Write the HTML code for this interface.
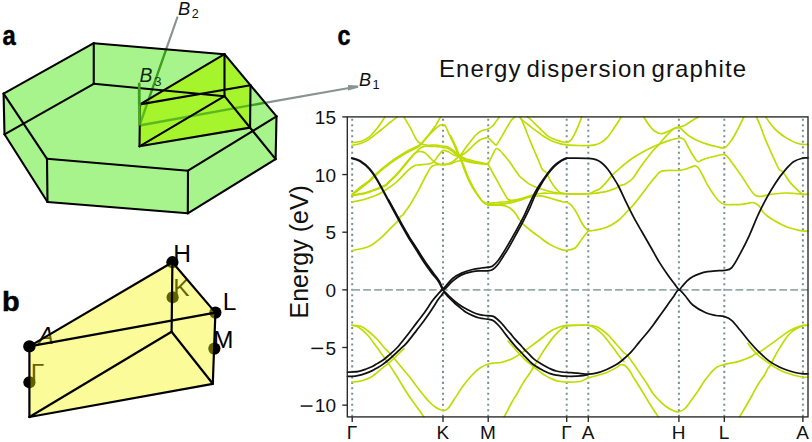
<!DOCTYPE html>
<html><head><meta charset="utf-8"><style>html,body{margin:0;padding:0;background:#fff;overflow:hidden}svg{display:block}</style></head>
<body><svg width="812" height="442" viewBox="0 0 812 442">
<polygon points="3.60,93.60 93.75,43.20 224.50,54.20 276.50,116.40 275.60,159.10 187.80,213.30 47.50,202.00 4.50,134.30" fill="#a8f48c"/>
<polygon points="140.00,104.40 224.50,54.20 250.50,85.30 250.05,127.65 139.50,146.30" fill="#a6f42c"/>
<line x1="139.50" y1="125.50" x2="250.20" y2="105.44" stroke="#5cb81e" stroke-width="2.4" />
<line x1="250.20" y1="105.44" x2="264.80" y2="102.80" stroke="#3c9e1e" stroke-width="2.4" />
<line x1="139.50" y1="125.50" x2="148.84" y2="98.80" stroke="#5cb81e" stroke-width="2.4" />
<line x1="148.84" y1="98.80" x2="166.42" y2="48.60" stroke="#3c9e1e" stroke-width="2.4" />
<line x1="264.80" y1="102.80" x2="349.00" y2="88.00" stroke="#88948f" stroke-width="2.2" />
<polygon points="348,85.0 358.2,85.5 358.2,87.7 348,90.6" fill="#88948f"/>
<line x1="166.42" y1="48.60" x2="177.30" y2="17.50" stroke="#88948f" stroke-width="2.2" stroke-linecap="round"/>
<line x1="93.75" y1="43.20" x2="224.50" y2="54.20" stroke="#000" stroke-width="2.1" stroke-linecap="round"/>
<line x1="93.75" y1="83.80" x2="224.50" y2="96.20" stroke="#000" stroke-width="2.1" stroke-linecap="round"/>
<line x1="224.50" y1="54.20" x2="276.50" y2="116.40" stroke="#000" stroke-width="2.1" stroke-linecap="round"/>
<line x1="224.50" y1="96.20" x2="275.60" y2="159.10" stroke="#000" stroke-width="2.1" stroke-linecap="round"/>
<line x1="276.50" y1="116.40" x2="188.00" y2="170.70" stroke="#000" stroke-width="2.1" stroke-linecap="round"/>
<line x1="275.60" y1="159.10" x2="187.80" y2="213.30" stroke="#000" stroke-width="2.1" stroke-linecap="round"/>
<line x1="188.00" y1="170.70" x2="47.00" y2="158.80" stroke="#000" stroke-width="2.1" stroke-linecap="round"/>
<line x1="187.80" y1="213.30" x2="47.50" y2="202.00" stroke="#000" stroke-width="2.1" stroke-linecap="round"/>
<line x1="47.00" y1="158.80" x2="3.60" y2="93.60" stroke="#000" stroke-width="2.1" stroke-linecap="round"/>
<line x1="47.50" y1="202.00" x2="4.50" y2="134.30" stroke="#000" stroke-width="2.1" stroke-linecap="round"/>
<line x1="3.60" y1="93.60" x2="93.75" y2="43.20" stroke="#000" stroke-width="2.1" stroke-linecap="round"/>
<line x1="4.50" y1="134.30" x2="93.75" y2="83.80" stroke="#000" stroke-width="2.1" stroke-linecap="round"/>
<line x1="93.75" y1="43.20" x2="93.75" y2="83.80" stroke="#000" stroke-width="2.1" stroke-linecap="round"/>
<line x1="224.50" y1="54.20" x2="224.50" y2="96.20" stroke="#000" stroke-width="2.1" stroke-linecap="round"/>
<line x1="276.50" y1="116.40" x2="275.60" y2="159.10" stroke="#000" stroke-width="2.1" stroke-linecap="round"/>
<line x1="188.00" y1="170.70" x2="187.80" y2="213.30" stroke="#000" stroke-width="2.1" stroke-linecap="round"/>
<line x1="47.00" y1="158.80" x2="47.50" y2="202.00" stroke="#000" stroke-width="2.1" stroke-linecap="round"/>
<line x1="3.60" y1="93.60" x2="4.50" y2="134.30" stroke="#000" stroke-width="2.1" stroke-linecap="round"/>
<line x1="140.00" y1="104.40" x2="224.50" y2="54.20" stroke="#000" stroke-width="2.1" stroke-linecap="round"/>
<line x1="140.00" y1="104.40" x2="250.50" y2="85.30" stroke="#000" stroke-width="2.1" stroke-linecap="round"/>
<line x1="140.00" y1="104.40" x2="139.50" y2="146.30" stroke="#000" stroke-width="2.1" stroke-linecap="round"/>
<line x1="250.50" y1="85.30" x2="250.05" y2="127.65" stroke="#000" stroke-width="2.1" stroke-linecap="round"/>
<line x1="139.50" y1="146.30" x2="224.50" y2="96.20" stroke="#000" stroke-width="2.1" stroke-linecap="round"/>
<line x1="139.50" y1="146.30" x2="250.05" y2="127.65" stroke="#000" stroke-width="2.1" stroke-linecap="round"/>
<line x1="139.50" y1="125.50" x2="139.30" y2="103.80" stroke="#4caa22" stroke-width="2.8" />
<line x1="139.30" y1="103.80" x2="139.20" y2="84.00" stroke="#3c9e1e" stroke-width="2.8" stroke-linecap="round"/>
<text transform="translate(2.4,45.3) scale(0.85,1)" font-family="Liberation Sans" font-weight="bold" font-size="28" stroke="#000" stroke-width="0.5">a</text>
<text x="178" y="14.6" font-family="Liberation Sans" font-style="italic" font-size="18.3" fill="#111">B</text><text x="191.8" y="18.2" font-family="Liberation Sans" font-size="12.5" fill="#111">2</text>
<text x="359" y="85.5" font-family="Liberation Sans" font-style="italic" font-size="18" fill="#111">B</text><text x="372.6" y="88.9" font-family="Liberation Sans" font-size="12.8" fill="#111">1</text>
<text x="139.6" y="82.3" font-family="Liberation Sans" font-style="italic" font-size="19.3" fill="#122612">B</text><text x="154" y="85.5" font-family="Liberation Sans" font-size="13.6" fill="#1f3f1c">3</text>
<text transform="translate(1.9,311) scale(1.07,1)" font-family="Liberation Sans" font-weight="bold" font-size="27" stroke="#000" stroke-width="0.5">b</text>
<text x="173.2" y="262.4" font-family="Liberation Sans" font-size="24.5">H</text>
<text x="173.2" y="296.3" font-family="Liberation Sans" font-size="24.5">K</text>
<text x="222.8" y="310.1" font-family="Liberation Sans" font-size="24.5">L</text>
<text x="213" y="348.3" font-family="Liberation Sans" font-size="24.5">M</text>
<text x="38.4" y="343.8" font-family="Liberation Sans" font-style="italic" font-size="23">A</text>
<text x="30.8" y="381.2" font-family="Liberation Sans" font-size="24.5">Γ</text>
<circle cx="29.4" cy="382.3" r="6.1" fill="#000"/>
<circle cx="172.6" cy="297.3" r="6.1" fill="#000"/>
<circle cx="214.4" cy="348.6" r="6.1" fill="#000"/>
<circle cx="215.4" cy="312.6" r="6.1" fill="#000"/>
<circle cx="172.4" cy="262.2" r="6.1" fill="#000"/>
<polygon points="29.40,346.40 172.40,262.20 215.40,312.60 212.80,383.80 29.40,417.00" fill="#f5f500" fill-opacity="0.4"/>
<line x1="29.40" y1="346.40" x2="172.40" y2="262.20" stroke="#000" stroke-width="2.2" stroke-linecap="round"/>
<line x1="172.40" y1="262.20" x2="215.40" y2="312.60" stroke="#000" stroke-width="2.2" stroke-linecap="round"/>
<line x1="29.40" y1="346.40" x2="215.40" y2="312.60" stroke="#000" stroke-width="2.2" stroke-linecap="round"/>
<line x1="29.40" y1="346.40" x2="29.40" y2="417.00" stroke="#000" stroke-width="2.2" stroke-linecap="round"/>
<line x1="172.40" y1="262.20" x2="171.60" y2="331.70" stroke="#000" stroke-width="2.2" stroke-linecap="round"/>
<line x1="215.40" y1="312.60" x2="212.80" y2="383.80" stroke="#000" stroke-width="2.2" stroke-linecap="round"/>
<line x1="29.40" y1="417.00" x2="171.60" y2="331.70" stroke="#000" stroke-width="2.2" stroke-linecap="round"/>
<line x1="171.60" y1="331.70" x2="212.80" y2="383.80" stroke="#000" stroke-width="2.2" stroke-linecap="round"/>
<line x1="29.40" y1="417.00" x2="212.80" y2="383.80" stroke="#000" stroke-width="2.2" stroke-linecap="round"/>
<circle cx="29.4" cy="346.4" r="6.2" fill="#000"/>
<text transform="translate(337.4,45.3) scale(0.83,1)" font-family="Liberation Sans" font-weight="bold" font-size="28" stroke="#000" stroke-width="0.5">c</text>
<text x="439" y="77" font-family="Liberation Sans" font-size="24" letter-spacing="1.1" word-spacing="-3" fill="#111">Energy dispersion graphite</text>
<line x1="352.2" y1="116.9" x2="352.2" y2="416.9" stroke="#7b9294" stroke-width="2" stroke-dasharray="2.07,3.41" stroke-dashoffset="3.61"/>
<line x1="443.0" y1="116.9" x2="443.0" y2="416.9" stroke="#7b9294" stroke-width="2" stroke-dasharray="2.07,3.41" stroke-dashoffset="3.61"/>
<line x1="488.2" y1="116.9" x2="488.2" y2="416.9" stroke="#7b9294" stroke-width="2" stroke-dasharray="2.07,3.41" stroke-dashoffset="3.61"/>
<line x1="566.7" y1="116.9" x2="566.7" y2="416.9" stroke="#7b9294" stroke-width="2" stroke-dasharray="2.07,3.41" stroke-dashoffset="3.61"/>
<line x1="588.3" y1="116.9" x2="588.3" y2="416.9" stroke="#7b9294" stroke-width="2" stroke-dasharray="2.07,3.41" stroke-dashoffset="3.61"/>
<line x1="678.9" y1="116.9" x2="678.9" y2="416.9" stroke="#7b9294" stroke-width="2" stroke-dasharray="2.07,3.41" stroke-dashoffset="3.61"/>
<line x1="724.3" y1="116.9" x2="724.3" y2="416.9" stroke="#7b9294" stroke-width="2" stroke-dasharray="2.07,3.41" stroke-dashoffset="3.61"/>
<line x1="802.9" y1="116.9" x2="802.9" y2="416.9" stroke="#7b9294" stroke-width="2" stroke-dasharray="2.07,3.41" stroke-dashoffset="3.61"/>
<line x1="352.2" y1="289.85" x2="808.0" y2="289.85" stroke="#98aaa6" stroke-width="1.7" stroke-dasharray="7.8,3.15"/>
<g fill="none" stroke-linecap="round" stroke-linejoin="round">
<path d="M352.00,142.60 C353.43,142.42 357.82,142.37 360.60,141.50 C363.38,140.63 365.98,139.55 368.70,137.40 C371.42,135.25 374.18,132.02 376.90,128.60 C379.62,125.18 383.65,118.85 385.00,116.90" stroke="#bedc00" stroke-width="1.65"/>
<path d="M352.00,145.30 C353.43,145.00 357.82,144.45 360.60,143.50 C363.38,142.55 365.32,141.85 368.70,139.60 C372.08,137.35 377.35,132.85 380.90,130.00 C384.45,127.15 387.28,124.68 390.00,122.50 C392.72,120.32 396.00,117.83 397.20,116.90" stroke="#bedc00" stroke-width="1.65"/>
<path d="M404.00,116.90 C405.13,118.85 408.77,124.87 410.80,128.60 C412.83,132.33 414.58,136.80 416.20,139.30 C417.82,141.80 418.53,142.62 420.50,143.60 C422.47,144.58 425.53,144.97 428.00,145.20 C430.47,145.43 432.80,144.83 435.30,145.00 C437.80,145.17 440.90,145.88 443.00,146.20 C445.10,146.52 446.28,146.27 447.90,146.90 C449.52,147.53 451.12,148.82 452.70,150.00 C454.28,151.18 455.55,152.67 457.40,154.00 C459.25,155.33 461.63,157.00 463.80,158.00 C465.97,159.00 467.85,159.28 470.40,160.00 C472.95,160.72 476.17,161.63 479.10,162.30 C482.03,162.97 486.52,163.72 488.00,164.00" stroke="#bedc00" stroke-width="1.65"/>
<path d="M352.00,195.70 C354.17,195.33 361.17,194.45 365.00,193.50 C368.83,192.55 371.60,191.30 375.00,190.00 C378.40,188.70 383.07,186.95 385.40,185.70 C387.73,184.45 386.88,184.53 389.00,182.50 C391.12,180.47 395.08,176.82 398.10,173.50 C401.12,170.18 404.08,166.18 407.10,162.60 C410.12,159.02 414.05,154.37 416.20,152.00 C418.35,149.63 418.70,149.33 420.00,148.40 C421.30,147.47 422.67,146.75 424.00,146.40 C425.33,146.05 426.17,146.28 428.00,146.30 C429.83,146.32 432.50,146.30 435.00,146.50 C437.50,146.70 440.85,147.18 443.00,147.50 C445.15,147.82 446.28,147.72 447.90,148.40 C449.52,149.08 451.12,150.43 452.70,151.60 C454.28,152.77 455.55,154.12 457.40,155.40 C459.25,156.68 461.63,158.32 463.80,159.30 C465.97,160.28 467.85,160.63 470.40,161.30 C472.95,161.97 476.17,162.78 479.10,163.30 C482.03,163.82 486.52,164.22 488.00,164.40" stroke="#bedc00" stroke-width="1.65"/>
<path d="M352.00,194.40 C353.33,193.25 357.07,189.90 360.00,187.50 C362.93,185.10 366.27,182.87 369.60,180.00 C372.93,177.13 376.77,173.12 380.00,170.30 C383.23,167.48 385.98,165.35 389.00,163.10 C392.02,160.85 395.08,158.77 398.10,156.80 C401.12,154.83 404.08,152.97 407.10,151.30 C410.12,149.63 414.00,147.97 416.20,146.80 C418.40,145.63 418.33,146.18 420.30,144.30 C422.27,142.42 425.55,138.47 428.00,135.50 C430.45,132.53 432.90,129.60 435.00,126.50 C437.10,123.40 439.67,118.50 440.60,116.90" stroke="#bedc00" stroke-width="1.65"/>
<path d="M352.00,194.90 C353.33,193.88 357.07,191.07 360.00,188.80 C362.93,186.53 366.27,184.17 369.60,181.30 C372.93,178.43 376.77,174.42 380.00,171.60 C383.23,168.78 385.98,166.65 389.00,164.40 C392.02,162.15 395.08,160.07 398.10,158.10 C401.12,156.13 404.08,154.27 407.10,152.60 C410.12,150.93 414.00,149.33 416.20,148.10 C418.40,146.87 418.27,147.25 420.30,145.20 C422.33,143.15 425.92,138.53 428.40,135.80 C430.88,133.07 433.27,130.57 435.20,128.80 C437.13,127.03 438.75,125.92 440.00,125.20 C441.25,124.48 441.78,124.33 442.70,124.50 C443.62,124.67 444.37,124.45 445.50,126.20 C446.63,127.95 448.05,131.88 449.50,135.00 C450.95,138.12 452.75,141.60 454.20,144.90 C455.65,148.20 456.97,151.90 458.20,154.80 C459.43,157.70 460.62,159.93 461.60,162.30 C462.58,164.67 463.13,166.48 464.10,169.00 C465.07,171.52 466.02,174.33 467.40,177.40 C468.78,180.47 470.75,184.50 472.40,187.40 C474.05,190.30 475.65,192.52 477.30,194.80 C478.95,197.08 480.52,199.68 482.30,201.10 C484.08,202.52 485.48,203.07 488.00,203.30 C490.52,203.53 493.75,202.85 497.40,202.50 C501.05,202.15 506.80,201.62 509.90,201.20 C513.00,200.78 513.93,200.50 516.00,200.00 C518.07,199.50 520.20,198.82 522.30,198.20 C524.40,197.58 526.48,196.95 528.60,196.30 C530.72,195.65 532.68,194.82 535.00,194.30 C537.32,193.78 540.00,193.37 542.50,193.20 C545.00,193.03 547.08,193.23 550.00,193.30 C552.92,193.37 557.17,193.52 560.00,193.60 C562.83,193.68 565.83,193.77 567.00,193.80" stroke="#bedc00" stroke-width="1.65"/>
<path d="M450.50,135.50 C451.28,137.12 453.75,141.95 455.20,145.20 C456.65,148.45 457.97,152.12 459.20,155.00 C460.43,157.88 461.62,160.13 462.60,162.50 C463.58,164.87 464.13,166.68 465.10,169.20 C466.07,171.72 467.02,174.53 468.40,177.60 C469.78,180.67 471.75,184.62 473.40,187.60 C475.05,190.58 476.65,193.05 478.30,195.50 C479.95,197.95 481.68,200.75 483.30,202.30 C484.92,203.85 485.65,204.47 488.00,204.80 C490.35,205.13 493.75,204.60 497.40,204.30 C501.05,204.00 507.82,203.22 509.90,203.00" stroke="#bedc00" stroke-width="1.65"/>
<path d="M488.00,205.00 C490.00,204.87 496.33,204.53 500.00,204.20 C503.67,203.87 506.67,203.67 510.00,203.00 C513.33,202.33 517.00,201.12 520.00,200.20 C523.00,199.28 525.50,198.18 528.00,197.50 C530.50,196.82 532.58,196.33 535.00,196.10 C537.42,195.87 539.38,195.58 542.50,196.10 C545.62,196.62 550.38,198.27 553.70,199.20 C557.02,200.13 560.23,201.18 562.40,201.70 C564.57,202.22 565.27,201.78 566.70,202.30 C568.13,202.82 569.65,203.55 571.00,204.80 C572.35,206.05 573.63,208.02 574.80,209.80 C575.97,211.58 576.97,213.55 578.00,215.50 C579.03,217.45 579.92,219.58 581.00,221.50 C582.08,223.42 583.28,225.42 584.50,227.00 C585.72,228.58 587.67,230.33 588.30,231.00" stroke="#bedc00" stroke-width="1.65"/>
<path d="M488.00,205.20 C489.50,205.20 494.30,205.13 497.00,205.20 C499.70,205.27 502.03,205.13 504.20,205.60 C506.37,206.07 508.12,206.68 510.00,208.00 C511.88,209.32 514.07,211.73 515.50,213.50 C516.93,215.27 517.68,217.27 518.60,218.60 C519.52,219.93 520.25,220.57 521.00,221.50 C521.75,222.43 521.60,222.78 523.10,224.20 C524.60,225.62 527.37,227.92 530.00,230.00 C532.63,232.08 535.53,234.27 538.90,236.70 C542.27,239.13 546.42,242.45 550.20,244.60 C553.98,246.75 558.88,248.67 561.60,249.60 C564.32,250.53 564.25,250.47 566.50,250.20 C568.75,249.93 572.53,249.88 575.10,248.00 C577.67,246.12 579.70,241.73 581.90,238.90 C584.10,236.07 587.23,232.32 588.30,231.00" stroke="#bedc00" stroke-width="1.65"/>
<path d="M352.00,195.20 C354.17,194.82 361.17,193.87 365.00,192.90 C368.83,191.93 371.60,190.72 375.00,189.40 C378.40,188.08 383.07,186.30 385.40,185.00 C387.73,183.70 386.88,183.68 389.00,181.60 C391.12,179.52 395.08,175.80 398.10,172.50 C401.12,169.20 404.45,164.85 407.10,161.80 C409.75,158.75 412.18,155.90 414.00,154.20 C415.82,152.50 416.70,152.00 418.00,151.60 C419.30,151.20 420.57,151.55 421.80,151.80 C423.03,152.05 424.05,152.13 425.40,153.10 C426.75,154.07 428.55,156.25 429.90,157.60 C431.25,158.95 432.30,160.22 433.50,161.20 C434.70,162.18 435.52,162.88 437.10,163.50 C438.68,164.12 441.20,164.83 443.00,164.90 C444.80,164.97 446.15,164.53 447.90,163.90 C449.65,163.27 451.78,162.22 453.50,161.10 C455.22,159.98 456.95,158.30 458.20,157.20 C459.45,156.10 459.72,156.12 461.00,154.50 C462.28,152.88 464.32,149.67 465.90,147.50 C467.48,145.33 468.92,143.50 470.50,141.50 C472.08,139.50 473.78,137.17 475.40,135.50 C477.02,133.83 478.62,132.45 480.20,131.50 C481.78,130.55 483.60,130.20 484.90,129.80 C486.20,129.40 486.73,129.70 488.00,129.10 C489.27,128.50 491.13,127.52 492.50,126.20 C493.87,124.88 495.07,122.75 496.20,121.20 C497.33,119.65 498.78,117.62 499.30,116.90" stroke="#bedc00" stroke-width="1.65"/>
<path d="M352.00,202.00 C354.17,201.53 360.77,200.40 365.00,199.20 C369.23,198.00 374.28,196.15 377.40,194.80 C380.52,193.45 380.58,193.17 383.70,191.10 C386.82,189.03 391.95,185.93 396.10,182.40 C400.25,178.87 405.48,172.70 408.60,169.90 C411.72,167.10 413.07,166.43 414.80,165.60 C416.53,164.77 416.78,165.17 419.00,164.90 C421.22,164.63 425.68,164.47 428.10,164.00 C430.52,163.53 431.85,163.43 433.50,162.10 C435.15,160.77 436.42,157.92 438.00,156.00 C439.58,154.08 441.35,151.33 443.00,150.60 C444.65,149.87 446.15,150.90 447.90,151.60 C449.65,152.30 451.78,153.98 453.50,154.80 C455.22,155.62 456.78,156.47 458.20,156.50 C459.62,156.53 460.72,155.67 462.00,155.00 C463.28,154.33 464.45,153.65 465.90,152.50 C467.35,151.35 469.12,149.63 470.70,148.10 C472.28,146.57 473.82,144.68 475.40,143.30 C476.98,141.92 478.62,140.65 480.20,139.80 C481.78,138.95 483.60,138.53 484.90,138.20 C486.20,137.87 486.73,137.20 488.00,137.80 C489.27,138.40 491.13,140.62 492.50,141.80 C493.87,142.98 494.75,145.63 496.20,144.90 C497.65,144.17 499.53,140.10 501.20,137.40 C502.87,134.70 504.55,131.50 506.20,128.70 C507.85,125.90 509.65,122.57 511.10,120.60 C512.55,118.63 514.27,117.52 514.90,116.90" stroke="#bedc00" stroke-width="1.65"/>
<path d="M352.00,250.50 C353.33,250.25 357.00,249.73 360.00,249.00 C363.00,248.27 366.52,247.95 370.00,246.10 C373.48,244.25 377.28,241.07 380.90,237.90 C384.52,234.73 388.68,230.12 391.70,227.10 C394.72,224.08 397.57,221.57 399.00,219.80 C400.43,218.03 399.70,217.25 400.30,216.50 C400.90,215.75 401.65,216.30 402.60,215.30 C403.55,214.30 404.80,212.17 406.00,210.50 C407.20,208.83 407.95,208.27 409.80,205.30 C411.65,202.33 415.12,196.25 417.10,192.70 C419.08,189.15 420.17,186.95 421.70,184.00 C423.23,181.05 424.80,177.75 426.30,175.00 C427.80,172.25 429.25,169.17 430.70,167.50 C432.15,165.83 432.95,165.52 435.00,165.00 C437.05,164.48 440.50,164.57 443.00,164.40 C445.50,164.23 447.80,164.48 450.00,164.00 C452.20,163.52 454.13,162.08 456.20,161.50 C458.27,160.92 459.92,160.33 462.40,160.50 C464.88,160.67 467.98,161.97 471.10,162.50 C474.22,163.03 478.28,163.45 481.10,163.70 C483.92,163.95 486.85,163.95 488.00,164.00" stroke="#bedc00" stroke-width="1.65"/>
<path d="M351.80,325.20 C353.00,325.58 356.30,325.78 359.00,327.50 C361.70,329.22 365.17,332.40 368.00,335.50 C370.83,338.60 373.53,342.75 376.00,346.10 C378.47,349.45 380.53,352.43 382.80,355.60 C385.07,358.77 387.40,361.87 389.60,365.10 C391.80,368.33 393.93,371.68 396.00,375.00 C398.07,378.32 400.00,381.75 402.00,385.00 C404.00,388.25 406.00,391.50 408.00,394.50 C410.00,397.50 412.08,400.33 414.00,403.00 C415.92,405.67 417.83,408.17 419.50,410.50 C421.17,412.83 423.25,415.92 424.00,417.00" stroke="#bedc00" stroke-width="1.65"/>
<path d="M351.80,325.20 C353.32,325.38 358.18,325.33 360.90,326.30 C363.62,327.27 365.35,328.80 368.10,331.00 C370.85,333.20 374.95,337.00 377.40,339.50 C379.85,342.00 380.77,343.72 382.80,346.00 C384.83,348.28 387.35,350.70 389.60,353.20 C391.85,355.70 394.57,358.95 396.30,361.00 C398.03,363.05 398.55,363.75 400.00,365.50 C401.45,367.25 403.38,369.58 405.00,371.50 C406.62,373.42 408.05,374.92 409.70,377.00 C411.35,379.08 413.38,381.95 414.90,384.00 C416.42,386.05 417.25,387.30 418.80,389.30 C420.35,391.30 422.33,393.80 424.20,396.00 C426.07,398.20 428.03,400.58 430.00,402.50 C431.97,404.42 433.83,406.17 436.00,407.50 C438.17,408.83 441.00,410.33 443.00,410.50 C445.00,410.67 445.78,410.90 448.00,408.50 C450.22,406.10 453.80,399.85 456.30,396.10 C458.80,392.35 460.40,389.47 463.00,386.00 C465.60,382.53 469.07,378.30 471.90,375.30 C474.73,372.30 477.40,369.85 480.00,368.00 C482.60,366.15 485.00,365.03 487.50,364.20 C490.00,363.37 492.77,363.28 495.00,363.00 C497.23,362.72 498.12,363.18 500.90,362.50 C503.68,361.82 508.38,360.42 511.70,358.90 C515.02,357.38 517.78,355.37 520.80,353.40 C523.82,351.43 526.48,349.50 529.80,347.10 C533.12,344.70 537.38,341.57 540.70,339.00 C544.02,336.43 546.68,333.67 549.70,331.70 C552.72,329.73 555.93,328.25 558.80,327.20 C561.67,326.15 563.87,325.72 566.90,325.40 C569.93,325.08 573.43,325.32 577.00,325.30 C580.57,325.28 585.12,325.10 588.30,325.30 C591.48,325.50 593.82,325.72 596.10,326.50 C598.38,327.28 599.98,328.58 602.00,330.00 C604.02,331.42 605.80,332.63 608.20,335.00 C610.60,337.37 613.85,341.32 616.40,344.20 C618.95,347.08 621.63,350.43 623.50,352.30 C625.37,354.17 626.58,354.38 627.60,355.40 C628.62,356.42 628.07,356.20 629.60,358.40 C631.13,360.60 634.58,365.37 636.80,368.60 C639.02,371.83 641.18,375.23 642.90,377.80 C644.62,380.37 645.42,381.38 647.10,384.00 C648.78,386.62 650.83,390.60 653.00,393.50 C655.17,396.40 657.93,399.23 660.10,401.40 C662.27,403.57 663.83,404.98 666.00,406.50 C668.17,408.02 670.95,409.62 673.10,410.50 C675.25,411.38 676.92,412.13 678.90,411.80 C680.88,411.47 682.90,410.47 685.00,408.50 C687.10,406.53 689.33,402.92 691.50,400.00 C693.67,397.08 695.92,394.08 698.00,391.00 C700.08,387.92 701.83,384.55 704.00,381.50 C706.17,378.45 708.83,375.12 711.00,372.70 C713.17,370.28 714.73,368.38 717.00,367.00 C719.27,365.62 721.10,365.30 724.60,364.40 C728.10,363.50 734.07,362.67 738.00,361.60 C741.93,360.53 745.70,359.02 748.20,358.00 C750.70,356.98 751.82,356.17 753.00,355.50 C754.18,354.83 754.40,354.43 755.30,354.00 C756.20,353.57 757.03,353.67 758.40,352.90 C759.77,352.13 760.95,351.18 763.50,349.40 C766.05,347.62 769.95,344.92 773.70,342.20 C777.45,339.48 782.45,335.47 786.00,333.10 C789.55,330.73 792.13,329.30 795.00,328.00 C797.87,326.70 801.03,325.75 803.20,325.30 C805.37,324.85 807.20,325.30 808.00,325.30" stroke="#bedc00" stroke-width="1.65"/>
<path d="M351.80,382.10 C352.97,381.98 356.50,381.85 358.80,381.40 C361.10,380.95 363.35,380.23 365.60,379.40 C367.85,378.57 369.43,378.33 372.30,376.40 C375.17,374.47 379.92,370.13 382.80,367.80 C385.68,365.47 387.35,364.37 389.60,362.40 C391.85,360.43 394.57,357.67 396.30,356.00 C398.03,354.33 398.72,353.63 400.00,352.40 C401.28,351.17 403.33,349.23 404.00,348.60" stroke="#bedc00" stroke-width="1.65"/>
<path d="M504.00,417.00 C504.33,416.42 504.67,416.00 506.00,413.50 C507.33,411.00 510.33,405.00 512.00,402.00 C513.67,399.00 514.53,398.00 516.00,395.50 C517.47,393.00 519.30,389.58 520.80,387.00 C522.30,384.42 523.50,382.28 525.00,380.00 C526.50,377.72 528.10,375.92 529.80,373.30 C531.50,370.68 532.78,368.22 535.20,364.30 C537.62,360.38 541.28,354.33 544.30,349.80 C547.32,345.27 550.28,340.72 553.30,337.10 C556.32,333.48 560.13,329.97 562.40,328.10 C564.67,326.23 564.47,326.37 566.90,325.90 C569.33,325.43 573.43,325.40 577.00,325.30 C580.57,325.20 585.30,324.85 588.30,325.30 C591.30,325.75 592.53,326.38 595.00,328.00 C597.47,329.62 600.38,332.13 603.10,335.00 C605.82,337.87 609.08,342.32 611.30,345.20 C613.52,348.08 614.70,350.00 616.40,352.30 C618.10,354.60 620.23,357.47 621.50,359.00 C622.77,360.53 623.58,361.08 624.00,361.50" stroke="#bedc00" stroke-width="1.65"/>
<path d="M508.00,341.00 C509.00,342.13 512.00,345.55 514.00,347.80 C516.00,350.05 518.17,352.52 520.00,354.50 C521.83,356.48 523.30,358.13 525.00,359.70 C526.70,361.27 528.47,362.45 530.20,363.90 C531.93,365.35 533.67,367.00 535.40,368.40 C537.13,369.80 538.87,371.05 540.60,372.30 C542.33,373.55 544.07,374.87 545.80,375.90 C547.53,376.93 549.27,377.72 551.00,378.50 C552.73,379.28 554.47,380.08 556.20,380.60 C557.93,381.12 559.67,381.35 561.40,381.60 C563.13,381.85 563.85,382.07 566.60,382.10 C569.35,382.13 575.00,382.15 577.90,381.80 C580.80,381.45 582.27,380.65 584.00,380.00 C585.73,379.35 586.30,378.60 588.30,377.90 C590.30,377.20 593.02,376.67 596.00,375.80 C598.98,374.93 602.80,374.07 606.20,372.70 C609.60,371.33 614.02,368.92 616.40,367.60 C618.78,366.28 619.15,365.18 620.50,364.80 C621.85,364.42 622.98,364.32 624.50,365.30 C626.02,366.28 628.07,368.62 629.60,370.70 C631.13,372.78 631.88,374.83 633.70,377.80 C635.52,380.77 638.12,384.63 640.50,388.50 C642.88,392.37 645.75,397.33 648.00,401.00 C650.25,404.67 652.25,407.83 654.00,410.50 C655.75,413.17 657.75,415.92 658.50,417.00" stroke="#bedc00" stroke-width="1.65"/>
<path d="M488.00,164.20 C488.75,162.63 491.13,157.40 492.50,154.80 C493.87,152.20 494.97,149.32 496.20,148.60 C497.43,147.88 498.45,149.25 499.90,150.50 C501.35,151.75 503.23,154.13 504.90,156.10 C506.57,158.07 508.23,160.02 509.90,162.30 C511.57,164.58 513.38,167.60 514.90,169.80 C516.42,172.00 517.77,174.02 519.00,175.50 C520.23,176.98 520.70,177.35 522.30,178.70 C523.90,180.05 526.52,182.25 528.60,183.60 C530.68,184.95 532.90,185.98 534.80,186.80 C536.70,187.62 537.47,187.72 540.00,188.50 C542.53,189.28 546.67,190.70 550.00,191.50 C553.33,192.30 557.17,192.92 560.00,193.30 C562.83,193.68 565.83,193.72 567.00,193.80" stroke="#bedc00" stroke-width="1.65"/>
<path d="M488.00,164.40 C488.53,165.33 489.63,167.20 491.20,170.00 C492.77,172.80 495.32,177.47 497.40,181.20 C499.48,184.93 501.83,189.30 503.70,192.40 C505.57,195.50 506.55,198.53 508.60,199.80 C510.65,201.07 514.77,199.97 516.00,200.00" stroke="#bedc00" stroke-width="1.65"/>
<path d="M519.80,116.90 C520.22,117.62 521.05,118.40 522.30,121.20 C523.55,124.00 525.63,129.55 527.30,133.70 C528.97,137.85 531.02,143.00 532.30,146.10 C533.58,149.20 533.93,149.82 535.00,152.30 C536.07,154.78 537.45,158.08 538.70,161.00 C539.95,163.92 541.25,167.90 542.50,169.80 C543.75,171.70 544.97,170.72 546.20,172.40 C547.43,174.08 548.45,177.40 549.90,179.90 C551.35,182.40 553.23,185.32 554.90,187.40 C556.57,189.48 557.93,191.33 559.90,192.40 C561.87,193.47 563.85,193.57 566.70,193.80 C569.55,194.03 573.40,193.80 577.00,193.80 C580.60,193.80 585.30,193.90 588.30,193.80 C591.30,193.70 593.05,193.40 595.00,193.20 C596.95,193.00 597.92,192.95 600.00,192.60 C602.08,192.25 604.80,191.87 607.50,191.10 C610.20,190.33 614.13,188.93 616.20,188.00 C618.27,187.07 618.45,186.12 619.90,185.50 C621.35,184.88 622.82,185.43 624.90,184.30 C626.98,183.17 630.13,181.08 632.40,178.70 C634.67,176.32 636.73,172.53 638.50,170.00 C640.27,167.47 641.30,165.82 643.00,163.50 C644.70,161.18 646.95,158.35 648.70,156.10 C650.45,153.85 651.85,151.87 653.50,150.00 C655.15,148.13 657.02,146.65 658.60,144.90 C660.18,143.15 661.55,141.17 663.00,139.50 C664.45,137.83 665.53,136.70 667.30,134.90 C669.07,133.10 671.67,129.95 673.60,128.70 C675.53,127.45 677.45,127.20 678.90,127.40 C680.35,127.60 681.28,129.05 682.30,129.90 C683.32,130.75 683.72,131.40 685.00,132.50 C686.28,133.60 688.12,135.27 690.00,136.50 C691.88,137.73 693.37,138.58 696.30,139.90 C699.23,141.22 704.32,143.30 707.60,144.40 C710.88,145.50 713.20,145.93 716.00,146.50 C718.80,147.07 722.03,148.53 724.40,147.80 C726.77,147.07 728.43,144.32 730.20,142.10 C731.97,139.88 733.48,137.13 735.00,134.50 C736.52,131.87 737.83,129.23 739.30,126.30 C740.77,123.37 743.05,118.47 743.80,116.90" stroke="#bedc00" stroke-width="1.65"/>
<path d="M519.80,116.90 C520.22,117.42 520.83,118.65 522.30,120.00 C523.77,121.35 526.52,123.35 528.60,125.00 C530.68,126.65 532.90,128.48 534.80,129.90 C536.70,131.32 538.72,132.57 540.00,133.50 C541.28,134.43 540.85,134.43 542.50,135.50 C544.15,136.57 547.00,138.55 549.90,139.90 C552.80,141.25 557.10,142.77 559.90,143.60 C562.70,144.43 563.58,144.58 566.70,144.90 C569.82,145.22 575.00,145.40 578.60,145.50 C582.20,145.60 585.57,145.60 588.30,145.50 C591.03,145.40 592.85,145.42 595.00,144.90 C597.15,144.38 599.13,143.65 601.20,142.40 C603.27,141.15 605.33,139.68 607.40,137.40 C609.47,135.12 611.73,131.40 613.60,128.70 C615.47,126.00 617.35,123.17 618.60,121.20 C619.85,119.23 620.68,117.62 621.10,116.90" stroke="#bedc00" stroke-width="1.65"/>
<path d="M527.30,116.90 C527.72,117.20 528.55,117.57 529.80,118.70 C531.05,119.83 533.10,122.03 534.80,123.70 C536.50,125.37 538.72,127.45 540.00,128.70 C541.28,129.95 540.85,129.75 542.50,131.20 C544.15,132.65 547.00,135.75 549.90,137.40 C552.80,139.05 557.10,140.27 559.90,141.10 C562.70,141.93 564.83,142.60 566.70,142.40 C568.57,142.20 569.75,141.35 571.10,139.90 C572.45,138.45 573.55,136.18 574.80,133.70 C576.05,131.22 577.45,127.80 578.60,125.00 C579.75,122.20 581.18,118.25 581.70,116.90" stroke="#bedc00" stroke-width="1.65"/>
<path d="M566.70,193.80 C568.42,193.80 573.40,193.80 577.00,193.80 C580.60,193.80 585.80,194.02 588.30,193.80 C590.80,193.58 590.72,193.05 592.00,192.50 C593.28,191.95 594.67,191.15 596.00,190.50 C597.33,189.85 598.30,189.95 600.00,188.60 C601.70,187.25 604.13,184.68 606.20,182.40 C608.27,180.12 610.32,177.08 612.40,174.90 C614.48,172.72 615.78,171.78 618.70,169.30 C621.62,166.82 625.95,162.83 629.90,160.00 C633.85,157.17 638.23,154.62 642.40,152.30 C646.57,149.98 650.75,147.97 654.90,146.10 C659.05,144.23 663.30,142.45 667.30,141.10 C671.30,139.75 676.40,138.42 678.90,138.00 C681.40,137.58 681.28,138.08 682.30,138.60 C683.32,139.12 683.42,138.62 685.00,141.10 C686.58,143.58 689.73,150.12 691.80,153.50 C693.87,156.88 695.70,160.32 697.40,161.40 C699.10,162.48 700.30,160.57 702.00,160.00 C703.70,159.43 705.27,158.67 707.60,158.00 C709.93,157.33 713.20,156.57 716.00,156.00 C718.80,155.43 722.03,153.90 724.40,154.60 C726.77,155.30 727.33,156.62 730.20,160.20 C733.07,163.78 737.82,170.63 741.60,176.10 C745.38,181.57 749.88,189.62 752.90,193.00 C755.92,196.38 756.68,196.20 759.70,196.40 C762.72,196.60 766.78,194.77 771.00,194.20 C775.22,193.63 781.00,193.12 785.00,193.00 C789.00,192.88 792.02,193.30 795.00,193.50 C797.98,193.70 800.73,194.08 802.90,194.20 C805.07,194.32 807.15,194.20 808.00,194.20" stroke="#bedc00" stroke-width="1.65"/>
<path d="M643.70,116.90 C644.73,118.45 648.03,123.82 649.90,126.20 C651.77,128.58 653.03,129.95 654.90,131.20 C656.77,132.45 659.03,133.60 661.10,133.70 C663.17,133.80 665.22,132.63 667.30,131.80 C669.38,130.97 671.67,129.43 673.60,128.70 C675.53,127.97 677.00,127.98 678.90,127.40 C680.80,126.82 683.15,126.10 685.00,125.20 C686.85,124.30 687.73,123.38 690.00,122.00 C692.27,120.62 697.17,117.75 698.60,116.90" stroke="#bedc00" stroke-width="1.65"/>
<path d="M588.30,231.00 C589.50,230.83 592.50,230.57 595.50,230.00 C598.50,229.43 602.62,229.10 606.30,227.60 C609.98,226.10 614.65,223.10 617.60,221.00 C620.55,218.90 622.12,216.92 624.00,215.00 C625.88,213.08 627.30,211.20 628.90,209.50 C630.50,207.80 631.37,207.45 633.60,204.80 C635.83,202.15 639.60,197.13 642.30,193.60 C645.00,190.07 647.68,186.30 649.80,183.60 C651.92,180.90 653.20,179.42 655.00,177.40 C656.80,175.38 658.43,172.65 660.60,171.50 C662.77,170.35 664.90,170.68 668.00,170.50 C671.10,170.32 676.37,170.60 679.20,170.40 C682.03,170.20 683.20,169.78 685.00,169.30 C686.80,168.82 688.30,168.07 690.00,167.50 C691.70,166.93 693.77,165.78 695.20,165.90 C696.63,166.02 697.30,166.52 698.60,168.20 C699.90,169.88 701.50,173.18 703.00,176.00 C704.50,178.82 705.93,182.18 707.60,185.10 C709.27,188.02 711.12,190.85 713.00,193.50 C714.88,196.15 717.00,199.18 718.90,201.00 C720.80,202.82 722.05,203.80 724.40,204.40 C726.75,205.00 730.13,204.60 733.00,204.60 C735.87,204.60 739.10,204.62 741.60,204.40 C744.10,204.18 746.12,203.62 748.00,203.30 C749.88,202.98 751.23,202.22 752.90,202.50 C754.57,202.78 756.65,204.00 758.00,205.00 C759.35,206.00 760.17,207.33 761.00,208.50 C761.83,209.67 761.83,210.67 763.00,212.00 C764.17,213.33 766.07,215.03 768.00,216.50 C769.93,217.97 771.62,219.13 774.60,220.80 C777.58,222.47 782.13,224.98 785.90,226.50 C789.67,228.02 794.37,229.15 797.20,229.90 C800.03,230.65 801.10,230.82 802.90,231.00 C804.70,231.18 807.15,231.00 808.00,231.00" stroke="#bedc00" stroke-width="1.65"/>
<path d="M756.50,116.90 C757.08,118.25 758.48,121.17 760.00,125.00 C761.52,128.83 763.93,135.73 765.60,139.90 C767.27,144.07 768.50,146.62 770.00,150.00 C771.50,153.38 773.08,156.98 774.60,160.20 C776.12,163.42 777.78,167.40 779.10,169.30 C780.42,171.20 781.35,170.40 782.50,171.60 C783.65,172.80 784.67,174.62 786.00,176.50 C787.33,178.38 788.63,180.70 790.50,182.90 C792.37,185.10 795.13,187.82 797.20,189.70 C799.27,191.58 801.10,193.45 802.90,194.20 C804.70,194.95 807.15,194.20 808.00,194.20" stroke="#bedc00" stroke-width="1.65"/>
<path d="M765.60,116.90 C766.33,117.92 768.50,121.05 770.00,123.00 C771.50,124.95 772.93,126.85 774.60,128.60 C776.27,130.35 778.12,132.00 780.00,133.50 C781.88,135.00 784.07,136.43 785.90,137.60 C787.73,138.77 789.12,139.55 791.00,140.50 C792.88,141.45 795.22,142.65 797.20,143.30 C799.18,143.95 801.10,144.22 802.90,144.40 C804.70,144.58 807.15,144.40 808.00,144.40" stroke="#bedc00" stroke-width="1.65"/>
<path d="M739.50,417.00 C740.50,415.33 743.42,410.58 745.50,407.00 C747.58,403.42 749.92,399.25 752.00,395.50 C754.08,391.75 755.92,387.92 758.00,384.50 C760.08,381.08 762.90,377.60 764.50,375.00 C766.10,372.40 766.58,370.53 767.60,368.90 C768.62,367.27 769.58,366.93 770.60,365.20 C771.62,363.47 772.33,361.13 773.70,358.50 C775.07,355.87 776.75,352.78 778.80,349.40 C780.85,346.02 783.97,341.02 786.00,338.20 C788.03,335.38 789.30,334.07 791.00,332.50 C792.70,330.93 794.17,329.92 796.20,328.80 C798.23,327.68 801.23,326.35 803.20,325.80 C805.17,325.25 807.20,325.55 808.00,325.50" stroke="#bedc00" stroke-width="1.65"/>
<path d="M748.00,343.50 C748.83,344.58 751.27,348.00 753.00,350.00 C754.73,352.00 756.73,354.00 758.40,355.50 C760.07,357.00 761.40,357.83 763.00,359.00 C764.60,360.17 766.33,361.33 768.00,362.50 C769.67,363.67 771.20,364.83 773.00,366.00 C774.80,367.17 776.63,368.37 778.80,369.50 C780.97,370.63 783.30,371.80 786.00,372.80 C788.70,373.80 792.13,374.77 795.00,375.50 C797.87,376.23 801.03,376.92 803.20,377.20 C805.37,377.48 807.20,377.20 808.00,377.20" stroke="#bedc00" stroke-width="1.65"/>
<path d="M352.00,158.20 C353.33,158.67 357.07,159.20 360.00,161.00 C362.93,162.80 366.73,165.83 369.60,169.00 C372.47,172.17 374.12,174.85 377.20,180.00 C380.28,185.15 384.03,192.40 388.10,199.90 C392.17,207.40 398.30,218.97 401.60,225.00 C404.90,231.03 405.53,232.15 407.90,236.10 C410.27,240.05 413.17,244.48 415.80,248.70 C418.43,252.92 421.07,257.43 423.70,261.40 C426.33,265.37 429.22,269.33 431.60,272.50 C433.98,275.67 436.17,277.68 438.00,280.40 C439.83,283.12 441.83,287.40 442.60,288.80" stroke="#111111" stroke-width="2.2"/>
<path d="M388.60,199.90 C390.88,204.08 398.93,218.97 402.30,225.00 C405.67,231.03 406.37,232.15 408.80,236.10 C411.23,240.05 414.20,244.48 416.90,248.70 C419.60,252.92 422.32,257.43 425.00,261.40 C427.68,265.37 430.63,269.23 433.00,272.50 C435.37,275.77 437.60,278.18 439.20,281.00 C440.80,283.82 442.03,288.00 442.60,289.40" stroke="#111111" stroke-width="1.75"/>
<path d="M442.60,289.00 C443.05,288.62 443.63,288.45 445.30,286.70 C446.97,284.95 449.88,280.77 452.60,278.50 C455.32,276.23 458.28,274.60 461.60,273.10 C464.92,271.60 469.18,270.35 472.50,269.50 C475.82,268.65 478.90,268.38 481.50,268.00 C484.10,267.62 486.23,267.53 488.10,267.20 C489.97,266.87 491.03,267.12 492.70,266.00 C494.37,264.88 496.30,262.77 498.10,260.50 C499.90,258.23 501.70,255.25 503.50,252.40 C505.30,249.55 506.80,247.02 508.90,243.40 C511.00,239.78 513.68,235.07 516.10,230.70 C518.52,226.33 521.28,221.42 523.40,217.20 C525.52,212.98 526.87,209.53 528.80,205.40 C530.73,201.27 532.93,196.23 535.00,192.40 C537.07,188.57 539.13,185.52 541.20,182.40 C543.27,179.28 545.32,176.40 547.40,173.70 C549.48,171.00 551.42,168.38 553.70,166.20 C555.98,164.02 558.97,161.93 561.10,160.60 C563.23,159.27 563.85,158.60 566.50,158.20 C569.15,157.80 573.37,158.17 577.00,158.20 C580.63,158.23 585.63,158.28 588.30,158.40 C590.97,158.52 591.38,158.55 593.00,158.90 C594.62,159.25 596.33,159.65 598.00,160.50 C599.67,161.35 601.33,162.50 603.00,164.00 C604.67,165.50 606.33,167.33 608.00,169.50 C609.67,171.67 611.22,174.17 613.00,177.00 C614.78,179.83 616.52,182.30 618.70,186.50 C620.88,190.70 623.62,197.08 626.10,202.20 C628.58,207.32 630.92,212.18 633.60,217.20 C636.28,222.22 639.33,227.28 642.20,232.30 C645.07,237.32 647.93,242.28 650.80,247.30 C653.67,252.32 656.53,257.73 659.40,262.40 C662.27,267.07 665.48,271.72 668.00,275.30 C670.52,278.88 672.67,281.53 674.50,283.90 C676.33,286.27 677.75,289.07 679.00,289.50 C680.25,289.93 680.65,287.93 682.00,286.50 C683.35,285.07 685.33,282.52 687.10,280.90 C688.87,279.28 690.45,278.02 692.60,276.80 C694.75,275.58 697.50,274.45 700.00,273.60 C702.50,272.75 704.93,272.17 707.60,271.70 C710.27,271.23 713.20,271.02 716.00,270.80 C718.80,270.58 721.77,270.93 724.40,270.40 C727.03,269.87 729.10,270.52 731.80,267.60 C734.50,264.68 737.67,258.28 740.60,252.90 C743.53,247.52 746.47,241.67 749.40,235.30 C752.33,228.93 755.25,221.07 758.20,214.70 C761.15,208.33 764.15,202.48 767.10,197.10 C770.05,191.72 772.97,186.82 775.90,182.40 C778.83,177.98 781.77,174.03 784.70,170.60 C787.63,167.17 790.55,163.87 793.50,161.80 C796.45,159.73 799.98,158.83 802.40,158.20 C804.82,157.57 807.07,158.03 808.00,158.00" stroke="#111111" stroke-width="1.75"/>
<path d="M442.60,289.40 C443.05,289.25 443.63,289.87 445.30,288.50 C446.97,287.13 449.88,283.47 452.60,281.20 C455.32,278.93 458.28,276.48 461.60,274.90 C464.92,273.32 469.18,272.37 472.50,271.70 C475.82,271.03 478.90,271.05 481.50,270.90 C484.10,270.75 486.23,271.02 488.10,270.80 C489.97,270.58 491.03,270.70 492.70,269.60 C494.37,268.50 496.30,266.47 498.10,264.20 C499.90,261.93 501.70,258.80 503.50,256.00 C505.30,253.20 506.80,251.02 508.90,247.40 C511.00,243.78 513.68,238.73 516.10,234.30 C518.52,229.87 521.13,225.17 523.40,220.80 C525.67,216.43 527.77,212.30 529.70,208.10 C531.63,203.90 533.08,199.58 535.00,195.60 C536.92,191.62 539.13,187.67 541.20,184.20 C543.27,180.73 545.32,177.63 547.40,174.80 C549.48,171.97 551.42,169.48 553.70,167.20 C555.98,164.92 558.97,162.57 561.10,161.10 C563.23,159.63 565.60,158.85 566.50,158.40" stroke="#111111" stroke-width="1.75"/>
<path d="M347.50,372.00 C348.25,372.00 350.12,372.12 352.00,372.00 C353.88,371.88 356.53,371.77 358.80,371.30 C361.07,370.83 363.35,370.00 365.60,369.20 C367.85,368.40 370.57,367.32 372.30,366.50 C374.03,365.68 374.25,365.33 376.00,364.30 C377.75,363.27 380.53,361.92 382.80,360.30 C385.07,358.68 387.35,356.57 389.60,354.60 C391.85,352.63 394.57,350.23 396.30,348.50 C398.03,346.77 398.25,346.32 400.00,344.20 C401.75,342.08 404.00,339.40 406.80,335.80 C409.60,332.20 414.00,326.27 416.80,322.60 C419.60,318.93 420.93,317.52 423.60,313.80 C426.27,310.08 430.37,303.62 432.80,300.30 C435.23,296.98 436.58,295.68 438.20,293.90 C439.82,292.12 441.53,290.07 442.50,289.60 C443.47,289.13 442.95,290.07 444.00,291.10 C445.05,292.13 446.87,293.98 448.80,295.80 C450.73,297.62 453.35,300.18 455.60,302.00 C457.85,303.82 460.57,305.57 462.30,306.70 C464.03,307.83 464.25,307.88 466.00,308.80 C467.75,309.72 470.53,311.23 472.80,312.20 C475.07,313.17 477.35,314.03 479.60,314.60 C481.85,315.17 484.57,315.40 486.30,315.60 C488.03,315.80 488.82,315.67 490.00,315.80 C491.18,315.93 492.27,315.90 493.40,316.40 C494.53,316.90 495.67,317.88 496.80,318.80 C497.93,319.72 499.07,320.77 500.20,321.90 C501.33,323.03 502.47,324.30 503.60,325.60 C504.73,326.90 505.88,328.40 507.00,329.70 C508.12,331.00 508.97,331.82 510.30,333.40 C511.63,334.98 513.08,337.02 515.00,339.20 C516.92,341.38 520.10,344.65 521.80,346.50 C523.50,348.35 524.07,349.12 525.20,350.30 C526.33,351.48 527.13,352.13 528.60,353.60 C530.07,355.07 532.00,357.47 534.00,359.10 C536.00,360.73 538.63,362.17 540.60,363.40 C542.57,364.63 544.07,365.55 545.80,366.50 C547.53,367.45 549.27,368.35 551.00,369.10 C552.73,369.85 554.47,370.52 556.20,371.00 C557.93,371.48 559.67,371.75 561.40,372.00 C563.13,372.25 565.00,372.40 566.60,372.50 C568.20,372.60 569.12,372.48 571.00,372.60 C572.88,372.72 575.02,372.93 577.90,373.20 C580.78,373.47 585.28,374.20 588.30,374.20 C591.32,374.20 593.02,373.95 596.00,373.20 C598.98,372.45 602.80,371.13 606.20,369.70 C609.60,368.27 613.68,366.22 616.40,364.60 C619.12,362.98 620.80,361.37 622.50,360.00 C624.20,358.63 625.07,357.85 626.60,356.40 C628.13,354.95 630.00,353.17 631.70,351.30 C633.40,349.43 635.25,347.08 636.80,345.20 C638.35,343.32 639.33,342.00 641.00,340.00 C642.67,338.00 644.70,335.80 646.80,333.20 C648.90,330.60 651.33,327.45 653.60,324.40 C655.87,321.35 658.13,318.07 660.40,314.90 C662.67,311.73 664.93,308.57 667.20,305.40 C669.47,302.23 672.07,298.50 674.00,295.90 C675.93,293.30 676.97,289.87 678.80,289.80 C680.63,289.73 682.67,292.97 685.00,295.50 C687.33,298.03 689.33,302.12 692.80,305.00 C696.27,307.88 701.93,311.05 705.80,312.80 C709.67,314.55 712.87,314.85 716.00,315.50 C719.13,316.15 721.95,315.85 724.60,316.70 C727.25,317.55 729.33,318.38 731.90,320.60 C734.47,322.82 737.28,326.73 740.00,330.00 C742.72,333.27 745.13,336.63 748.20,340.20 C751.27,343.77 755.00,348.00 758.40,351.40 C761.80,354.80 765.20,358.05 768.60,360.60 C772.00,363.15 775.90,365.17 778.80,366.70 C781.70,368.23 783.30,368.83 786.00,369.80 C788.70,370.77 792.17,371.83 795.00,372.50 C797.83,373.17 800.83,373.58 803.00,373.80 C805.17,374.02 807.17,373.80 808.00,373.80" stroke="#111111" stroke-width="1.75"/>
<path d="M347.50,376.40 C348.25,376.40 350.12,376.58 352.00,376.40 C353.88,376.22 356.53,375.82 358.80,375.30 C361.07,374.78 363.35,374.08 365.60,373.30 C367.85,372.52 370.57,371.40 372.30,370.60 C374.03,369.80 374.25,369.53 376.00,368.50 C377.75,367.47 380.53,365.98 382.80,364.40 C385.07,362.82 387.35,360.92 389.60,359.00 C391.85,357.08 394.57,354.52 396.30,352.90 C398.03,351.28 398.25,350.98 400.00,349.30 C401.75,347.62 404.00,346.00 406.80,342.80 C409.60,339.60 414.00,333.68 416.80,330.10 C419.60,326.52 421.35,324.35 423.60,321.30 C425.85,318.25 427.87,315.42 430.30,311.80 C432.73,308.18 436.32,302.37 438.20,299.60 C440.08,296.83 440.80,296.27 441.60,295.20 C442.40,294.13 442.55,293.65 443.00,293.20 C443.45,292.75 443.33,291.78 444.30,292.50 C445.27,293.22 446.92,295.58 448.80,297.50 C450.68,299.42 453.35,302.02 455.60,304.00 C457.85,305.98 460.57,308.03 462.30,309.40 C464.03,310.77 464.25,311.17 466.00,312.20 C467.75,313.23 470.53,314.63 472.80,315.60 C475.07,316.57 477.35,317.43 479.60,318.00 C481.85,318.57 484.57,318.73 486.30,319.00 C488.03,319.27 488.82,319.30 490.00,319.60 C491.18,319.90 492.27,320.13 493.40,320.80 C494.53,321.47 495.67,322.52 496.80,323.60 C497.93,324.68 499.07,325.95 500.20,327.30 C501.33,328.65 502.47,330.23 503.60,331.70 C504.73,333.17 505.98,334.80 507.00,336.10 C508.02,337.40 508.37,337.88 509.70,339.50 C511.03,341.12 512.98,343.55 515.00,345.80 C517.02,348.05 520.10,351.18 521.80,353.00 C523.50,354.82 524.07,355.52 525.20,356.70 C526.33,357.88 527.25,358.80 528.60,360.10 C529.95,361.40 531.30,363.02 533.30,364.50 C535.30,365.98 538.52,367.80 540.60,369.00 C542.68,370.20 544.07,370.90 545.80,371.70 C547.53,372.50 549.27,373.22 551.00,373.80 C552.73,374.38 554.47,374.85 556.20,375.20 C557.93,375.55 559.67,375.73 561.40,375.90 C563.13,376.07 565.00,376.13 566.60,376.20 C568.20,376.27 568.68,376.35 571.00,376.30 C573.32,376.25 577.62,376.18 580.50,375.90 C583.38,375.62 587.00,374.82 588.30,374.60" stroke="#111111" stroke-width="1.75"/>
</g>
<rect x="347.3" y="116.9" width="460.7" height="300.0" fill="none" stroke="#262626" stroke-width="1.35"/>
<line x1="342.30" y1="116.90" x2="347.30" y2="116.90" stroke="#262626" stroke-width="1.35" />
<text x="336" y="123.90" text-anchor="end" font-family="Liberation Sans" font-size="19" fill="#111">15</text>
<line x1="342.30" y1="174.55" x2="347.30" y2="174.55" stroke="#262626" stroke-width="1.35" />
<text x="336" y="181.55" text-anchor="end" font-family="Liberation Sans" font-size="19" fill="#111">10</text>
<line x1="342.30" y1="232.20" x2="347.30" y2="232.20" stroke="#262626" stroke-width="1.35" />
<text x="336" y="239.20" text-anchor="end" font-family="Liberation Sans" font-size="19" fill="#111">5</text>
<line x1="342.30" y1="289.85" x2="347.30" y2="289.85" stroke="#262626" stroke-width="1.35" />
<text x="336" y="296.85" text-anchor="end" font-family="Liberation Sans" font-size="19" fill="#111">0</text>
<line x1="342.30" y1="347.50" x2="347.30" y2="347.50" stroke="#262626" stroke-width="1.35" />
<text x="336" y="354.50" text-anchor="end" font-family="Liberation Sans" font-size="19" fill="#111">5</text>
<line x1="311.40" y1="348.40" x2="323.20" y2="348.40" stroke="#111" stroke-width="1.5" />
<line x1="342.30" y1="405.15" x2="347.30" y2="405.15" stroke="#262626" stroke-width="1.35" />
<text x="336" y="412.15" text-anchor="end" font-family="Liberation Sans" font-size="19" fill="#111">10</text>
<line x1="300.70" y1="406.05" x2="312.50" y2="406.05" stroke="#111" stroke-width="1.5" />
<line x1="352.20" y1="416.90" x2="352.20" y2="421.90" stroke="#262626" stroke-width="1.35" />
<text x="352.00" y="439.3" text-anchor="middle" font-family="Liberation Sans" font-size="19" fill="#111">Γ</text>
<line x1="443.00" y1="416.90" x2="443.00" y2="421.90" stroke="#262626" stroke-width="1.35" />
<text x="442.80" y="439.3" text-anchor="middle" font-family="Liberation Sans" font-size="19" fill="#111">K</text>
<line x1="488.20" y1="416.90" x2="488.20" y2="421.90" stroke="#262626" stroke-width="1.35" />
<text x="488.00" y="439.3" text-anchor="middle" font-family="Liberation Sans" font-size="19" fill="#111">M</text>
<line x1="566.70" y1="416.90" x2="566.70" y2="421.90" stroke="#262626" stroke-width="1.35" />
<text x="566.50" y="439.3" text-anchor="middle" font-family="Liberation Sans" font-size="19" fill="#111">Γ</text>
<line x1="588.30" y1="416.90" x2="588.30" y2="421.90" stroke="#262626" stroke-width="1.35" />
<text x="588.10" y="439.3" text-anchor="middle" font-family="Liberation Sans" font-size="19" fill="#111">A</text>
<line x1="678.90" y1="416.90" x2="678.90" y2="421.90" stroke="#262626" stroke-width="1.35" />
<text x="678.70" y="439.3" text-anchor="middle" font-family="Liberation Sans" font-size="19" fill="#111">H</text>
<line x1="724.30" y1="416.90" x2="724.30" y2="421.90" stroke="#262626" stroke-width="1.35" />
<text x="724.10" y="439.3" text-anchor="middle" font-family="Liberation Sans" font-size="19" fill="#111">L</text>
<line x1="802.90" y1="416.90" x2="802.90" y2="421.90" stroke="#262626" stroke-width="1.35" />
<text x="802.70" y="439.3" text-anchor="middle" font-family="Liberation Sans" font-size="19" fill="#111">A</text>
<text transform="translate(307.5,318.5) rotate(-90)" font-family="Liberation Sans" font-size="25" fill="#111">Energy (eV)</text>
</svg></body></html>
